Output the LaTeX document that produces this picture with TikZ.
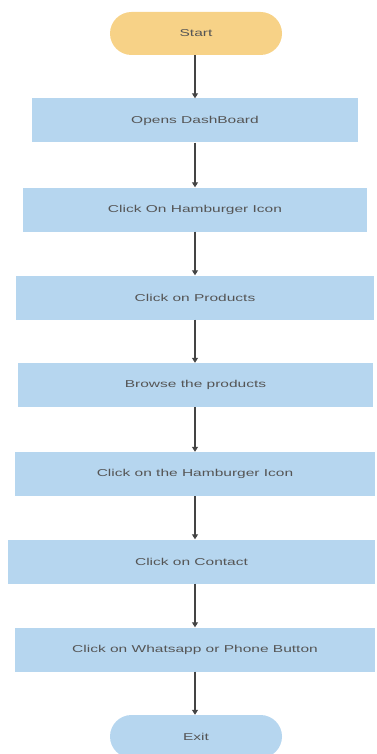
\documentclass[tikz,border=0pt]{standalone}
\usepackage{fontspec}
\setmainfont{Liberation Sans}[FakeStretch=1.55]
\usetikzlibrary{arrows.meta}
\definecolor{startorange}{HTML}{F7D287}
\definecolor{boxblue}{HTML}{B6D6EF}
\definecolor{textgray}{HTML}{555555}
\definecolor{linegray}{HTML}{444444}
\tikzset{
  terminal/.style={fill=#1, rounded corners=21.5pt, minimum width=172pt, minimum height=43pt,
    text=textgray, font=\fontsize{10}{12}\selectfont},
  stepbox/.style={fill=boxblue, minimum width=#1, minimum height=44pt,
    text=textgray, font=\fontsize{10}{12}\selectfont},
  flow/.style={draw=linegray, line width=1.1pt, -{Triangle[width=6pt,length=5pt]}}
}
\begin{document}
\begin{tikzpicture}[x=1pt,y=-1pt]
\useasboundingbox (0,0) rectangle (376,754);
\node[terminal=startorange] (1) at (196,33.5) {Start};
\node[stepbox=326pt] (2) at (195,120.5) {Opens DashBoard};
\node[stepbox=344pt] (3) at (195,209.5) {Click On Hamburger Icon};
\node[stepbox=358pt] (4) at (195,297.5) {Click on Products};
\node[stepbox=355pt] (5) at (195.5,385) {Browse the products};
\node[stepbox=360pt] (6) at (195,474) {Click on the Hamburger Icon};
\node[stepbox=367pt] (7) at (191.5,561.5) {Click on Contact};
\node[stepbox=360pt] (8) at (195,649.5) {Click on Whatsapp or Phone Button};
\node[terminal=boxblue] (9) at (196,736.5) {Exit};
\path[flow] (1.south -| 195,0) -- (2.north -| 195,0);
\path[flow] (2.south -| 195,0) -- (3.north -| 195,0);
\path[flow] (3.south -| 195,0) -- (4.north -| 195,0);
\path[flow] (4.south -| 195,0) -- (5.north -| 195,0);
\path[flow] (5.south -| 195,0) -- (6.north -| 195,0);
\path[flow] (6.south -| 195,0) -- (7.north -| 195,0);
\path[flow] (7.south -| 195,0) -- (8.north -| 195,0);
\path[flow] (8.south -| 195,0) -- (9.north -| 195,0);
\end{tikzpicture}
\end{document}
